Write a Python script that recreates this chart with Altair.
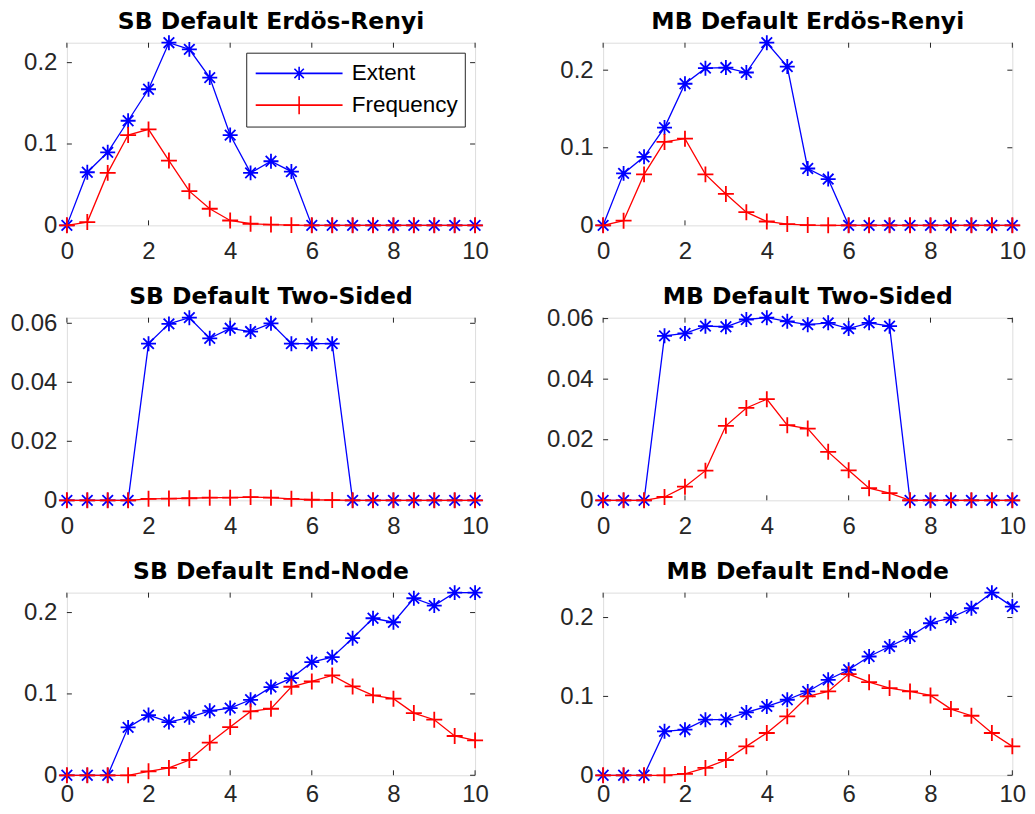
import altair as alt
import pandas as pd

# ---------------- data ----------------
X = [0, 0.5, 1, 1.5, 2, 2.5, 3, 3.5, 4, 4.5, 5, 5.5, 6, 6.5, 7, 7.5, 8, 8.5, 9, 9.5, 10]
SERIES = ["Extent", "Frequency"]
X_TICKS = [0, 2, 4, 6, 8, 10]
Y_TICKS_ER = [0, 0.1, 0.2]
Y_TICKS_TS = [0, 0.02, 0.04, 0.06]
Y_TICKS_EN = [0, 0.1, 0.2]

TITLES = ["SB Default Erdös-Renyi", "MB Default Erdös-Renyi",
          "SB Default Two-Sided", "MB Default Two-Sided",
          "SB Default End-Node", "MB Default End-Node"]

SB_ER_EXTENT = [0, 0.0653, 0.0898, 0.1286, 0.1673, 0.2245, 0.2163, 0.1816, 0.111, 0.0645, 0.0788,
                0.0661, 0, 0, 0, 0, 0, 0, 0, 0, 0]
SB_ER_FREQ = [0, 0.004, 0.0645, 0.111, 0.118, 0.0796, 0.042, 0.0204, 0.006, 0.002, 0.001,
              0.0003, 0, 0, 0, 0, 0, 0, 0, 0, 0]

MB_ER_EXTENT = [0, 0.067, 0.0883, 0.126, 0.1825, 0.2026, 0.2034, 0.197, 0.2354, 0.2047, 0.0733,
                0.0597, 0, 0, 0, 0, 0, 0, 0, 0, 0]
MB_ER_FREQ = [0, 0.006, 0.0657, 0.1075, 0.1117, 0.0657, 0.0405, 0.017, 0.005, 0.0017, 0.0004,
              0.0001, 0, 0, 0, 0, 0, 0, 0, 0, 0]

SB_TS_EXTENT = [0, 0, 0, 0, 0.0531, 0.0598, 0.0619, 0.0549, 0.0583, 0.0572, 0.06,
                0.0531, 0.0531, 0.0531, 0, 0, 0, 0, 0, 0, 0]
SB_TS_FREQ = [0, 0, 0, 0, 0.0005, 0.0006, 0.0007, 0.0009, 0.0009, 0.0011, 0.0009,
              0.0005, 0.0002, 0.0001, 0, 0, 0, 0, 0, 0, 0]

MB_TS_EXTENT = [0, 0, 0, 0.0543, 0.0551, 0.0575, 0.0573, 0.0597, 0.0603, 0.0591, 0.058,
                0.0586, 0.0567, 0.0586, 0.0575, 0, 0, 0, 0, 0, 0]
MB_TS_FREQ = [0, 0, 0, 0.0011, 0.0045, 0.0098, 0.0246, 0.0305, 0.0334, 0.0248, 0.0237,
              0.016, 0.0099, 0.004, 0.0024, 0, 0, 0, 0, 0, 0]

SB_EN_EXTENT = [0, 0, 0, 0.0589, 0.074, 0.0654, 0.0712, 0.0793, 0.0826, 0.0928, 0.1084,
                0.1194, 0.139, 0.1452, 0.1685, 0.193, 0.1881, 0.2176, 0.2086, 0.2245, 0.2245]
SB_EN_FREQ = [0, 0, 0, 0, 0.0049, 0.009, 0.0188, 0.0401, 0.0593, 0.0785, 0.0818,
              0.1088, 0.1153, 0.1227, 0.1092, 0.0982, 0.0941, 0.0765, 0.0683, 0.0483, 0.0429]

MB_EN_EXTENT = [0, 0, 0, 0.0557, 0.0578, 0.0705, 0.0705, 0.0797, 0.0873, 0.0958, 0.1063,
                0.1211, 0.1338, 0.1506, 0.1633, 0.1759, 0.1928, 0.2, 0.2118, 0.2316, 0.2139]
MB_EN_FREQ = [0, 0, 0, 0, 0.0017, 0.0093, 0.0194, 0.0367, 0.0536, 0.0747, 0.1,
              0.1063, 0.1283, 0.1181, 0.1105, 0.1063, 0.1013, 0.084, 0.0755, 0.0536, 0.0367]

# ---------------- styles ----------------
BLUE = "#0000FF"
RED = "#FF0000"
AXC = "#262626"
H = 183
ASTERISK = ("M-1,0L1,0M0,-1L0,1M-0.7071,-0.7071L0.7071,0.7071"
            "M-0.7071,0.7071L0.7071,-0.7071")
PLUS = "M-1,0L1,0M0,-1L0,1"
LEG_AST = ("M-0.95,0L0.95,0M0,-0.146L0,0.146M-0.146,0L0.146,0"
           "M-0.103,-0.103L0.103,0.103M-0.103,0.103L0.103,-0.103")
LEG_PLUS = "M-0.95,0L0.95,0M0,-0.197L0,0.197M-0.197,0L0.197,0"


def panel(title, ext, freq, yticks, w, legend=False, xpad=14):
    ymax = max(ext + freq)
    df = pd.DataFrame({"x": X + X, "y": ext + freq,
                       "series": [SERIES[0]] * len(X) + [SERIES[1]] * len(X)})
    xs = alt.Scale(domain=[0, 10], nice=False, zero=False)
    ys = alt.Scale(domain=[0, ymax], nice=False, zero=False)
    xax = alt.Axis(values=X_TICKS, format="~f", ticks=False, domain=False, grid=False,
                   labelPadding=xpad, title=None, labelFontSize=24, labelFont="Liberation Sans",
                   labelColor=AXC, labelFlush=False, labelOverlap=False)
    yax = alt.Axis(values=yticks, format="~f", ticks=False, domain=False, grid=False,
                   labelPadding=10, title=None, labelFontSize=24, labelFont="Liberation Sans",
                   labelColor=AXC, labelFlush=False, labelOverlap=False)
    X_ = alt.X("x:Q", scale=xs, axis=xax)
    Y_ = alt.Y("y:Q", scale=ys, axis=yax)
    base = alt.Chart(df)
    layers = []
    xt = alt.Chart(pd.DataFrame({"x": X_TICKS}))
    yt = alt.Chart(pd.DataFrame({"y": yticks}))
    layers.append(xt.mark_rule(color=AXC, strokeWidth=1).encode(x=X_, y=alt.value(H), y2=alt.value(H - 5)))
    layers.append(xt.mark_rule(color=AXC, strokeWidth=1).encode(x=X_, y=alt.value(0), y2=alt.value(5)))
    layers.append(yt.mark_rule(color=AXC, strokeWidth=1).encode(y=Y_, x=alt.value(0), x2=alt.value(5)))
    layers.append(yt.mark_rule(color=AXC, strokeWidth=1).encode(y=Y_, x=alt.value(w), x2=alt.value(w - 5)))
    for name, color, shape, size in [(SERIES[0], BLUE, ASTERISK, 225), (SERIES[1], RED, PLUS, 256)]:
        b = base.transform_filter(alt.datum.series == name)
        layers.append(b.mark_line(color=color, strokeWidth=1.3).encode(x=X_, y=Y_))
        layers.append(b.mark_point(shape=shape, size=size, color=color, strokeWidth=1.8,
                                   filled=False, opacity=1).encode(x=X_, y=Y_))
    if legend:
        lg = alt.Legend(orient="none", legendX=179.7, legendY=10, direction="vertical", title=None,
                        padding=6, strokeColor=AXC, fillColor="white", labelFontSize=22.5,
                        labelFont="Liberation Sans", labelColor="black", symbolSize=91.6 ** 2,
                        symbolStrokeWidth=1.6, clipHeight=29.5, rowPadding=1.8, labelOffset=5.7,
                        cornerRadius=0, labelBaseline="middle")
        layers.append(base.transform_filter("false").mark_point(filled=False, opacity=1).encode(
            x=X_, y=Y_,
            color=alt.Color("series:N", scale=alt.Scale(domain=SERIES, range=[BLUE, RED]), legend=lg),
            shape=alt.Shape("series:N", scale=alt.Scale(domain=SERIES, range=[LEG_AST, LEG_PLUS]), legend=lg),
        ))
    return alt.layer(*layers).properties(
        width=w, height=H,
        title=alt.TitleParams(title, font="DejaVu Sans", fontSize=23.5, fontWeight="bold", color="black",
                              offset=13, dy=34, baseline="alphabetic", anchor="middle", frame="group"),
    )


LW, RW = 409, 410
panels = [
    panel(TITLES[0], SB_ER_EXTENT, SB_ER_FREQ, Y_TICKS_ER, LW, legend=True),
    panel(TITLES[1], MB_ER_EXTENT, MB_ER_FREQ, Y_TICKS_ER, RW),
    panel(TITLES[2], SB_TS_EXTENT, SB_TS_FREQ, Y_TICKS_TS, LW),
    panel(TITLES[3], MB_TS_EXTENT, MB_TS_FREQ, Y_TICKS_TS, RW),
    panel(TITLES[4], SB_EN_EXTENT, SB_EN_FREQ, Y_TICKS_EN, LW, xpad=7.5),
    panel(TITLES[5], MB_EN_EXTENT, MB_EN_FREQ, Y_TICKS_EN, RW, xpad=7.5),
]

chart = alt.concat(*panels, columns=2, spacing={"row": 92.5, "column": 128.3}, bounds="flush").properties(
    padding={"left": 1, "top": 0, "right": 0, "bottom": 0},
    background="white",
).resolve_scale(x="independent", y="independent").configure_view(
    stroke=AXC, strokeWidth=1).configure(font="Liberation Sans")

chart.save("out.html", embed_options={"renderer": "svg", "actions": False})
